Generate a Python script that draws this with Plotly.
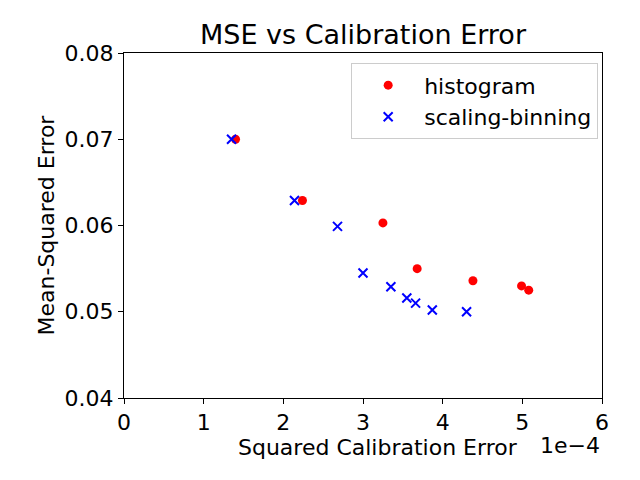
import plotly.graph_objects as go

# calibration error in units of 1e-4
hist_ce = [1.40, 2.24, 3.25, 3.68, 4.38, 4.99, 5.08]
hist_mse = [0.0700, 0.0629, 0.0603, 0.0550, 0.0536, 0.0530, 0.0525]

sb_ce = [1.35, 2.14, 2.68, 3.00, 3.35, 3.55, 3.66, 3.87, 4.30]
sb_mse = [0.0700, 0.0629, 0.0599, 0.0545, 0.0529, 0.0516, 0.0510, 0.0502, 0.0500]

FONT = "DejaVu Sans"
OFF = 8  # page body margin

fig = go.Figure()
fig.add_trace(go.Scatter(
    x=hist_ce, y=hist_mse, mode="markers", name="histogram",
    legendgroup="a",
    marker=dict(color="red", size=9, symbol="circle"),
))
fig.add_trace(go.Scatter(
    x=sb_ce, y=sb_mse, mode="markers", name="scaling-binning",
    legendgroup="b",
    marker=dict(color="blue", size=9, symbol="x-thin",
                line=dict(color="blue", width=2)),
))

axis_common = dict(
    showline=True, linecolor="black", linewidth=1, mirror=True,
    ticks="outside", ticklen=5, tickcolor="black",
    showgrid=False, zeroline=False,
    tickfont=dict(family=FONT, size=22, color="black"),
)

fig.update_layout(
    width=640, height=480,
    margin=dict(l=124 - OFF, r=38 + OFF, t=53 - OFF, b=82 + OFF),
    paper_bgcolor="white", plot_bgcolor="white",
    font=dict(family=FONT, color="black"),
    title=dict(text="MSE vs Calibration Error", x=0.5, xref="paper",
               y=1 - (35 - OFF) / 480, yanchor="middle",
               font=dict(family=FONT, size=27, color="black")),
    xaxis=dict(range=[0, 6], tickvals=[0, 1, 2, 3, 4, 5, 6], **axis_common),
    yaxis=dict(range=[0.04, 0.08], tickvals=[0.04, 0.05, 0.06, 0.07, 0.08],
               tickformat=".2f", **axis_common),
    legend=dict(x=0.992, xanchor="right", y=0.97, yanchor="top",
                bordercolor="#cccccc", borderwidth=1, bgcolor="white",
                tracegroupgap=0, itemwidth=62,
                font=dict(family=FONT, size=22, color="black")),
    showlegend=True,
    annotations=[
        dict(text="Squared Calibration Error", xref="paper", yref="paper",
             x=(378 - 124) / 478, y=-(447 - 398) / 344, xanchor="center",
             yanchor="middle", showarrow=False,
             font=dict(family=FONT, size=22, color="black")),
        dict(text="1e\u22124", xref="paper", yref="paper",
             x=1, y=-(445 - 398) / 344, xanchor="right", yanchor="middle",
             showarrow=False, font=dict(family=FONT, size=22, color="black")),
        dict(text="Mean-Squared Error", xref="paper", yref="paper",
             x=-(124 - 46) / 478, y=0.5, xanchor="center", yanchor="middle",
             textangle=-90, showarrow=False,
             font=dict(family=FONT, size=22, color="black")),
    ],
)

fig.write_html("out.html")
